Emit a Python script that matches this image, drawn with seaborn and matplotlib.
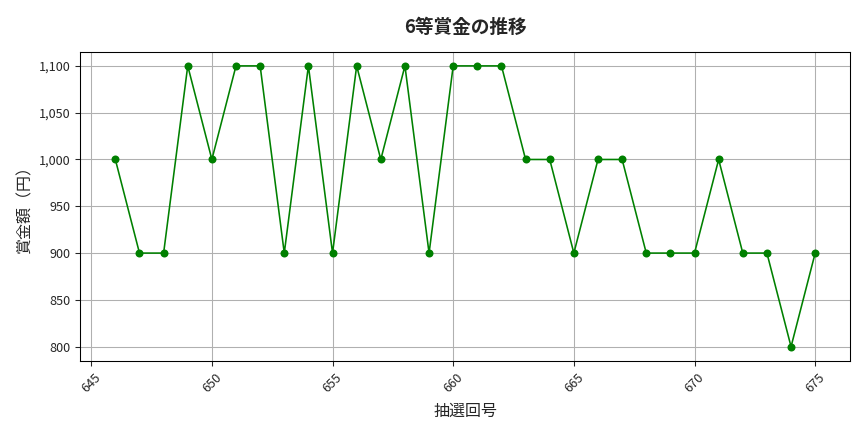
import matplotlib
matplotlib.use("Agg")
import matplotlib.pyplot as plt
import matplotlib.ticker as mticker
import seaborn as sns
import pandas as pd

# 6等賞金 per draw
draws = list(range(646, 676))
prizes = [1000, 900, 900, 1100, 1000, 1100, 1100, 900, 1100, 900,
          1100, 1000, 1100, 900, 1100, 1100, 1100, 1000, 1000, 900,
          1000, 1000, 900, 900, 900, 1000, 900, 900, 800, 900]

df = pd.DataFrame({"draw": draws, "prize": prizes})

sns.set_style("white")
plt.rcParams['font.family'] = ['Noto Sans CJK JP', 'DejaVu Sans']

fig, ax = plt.subplots(figsize=(9, 4.5), dpi=96)
sns.lineplot(data=df, x="draw", y="prize", ax=ax, color="green",
             marker="o", markersize=6, markeredgewidth=0, linewidth=1.2)

ax.set_title("6等賞金の推移", fontsize=14, fontweight="bold", pad=14)
ax.set_xlabel("抽選回号", fontsize=12, labelpad=6)
ax.set_ylabel("賞金額（円）", fontsize=12)
ax.yaxis.set_major_formatter(mticker.FuncFormatter(lambda v, p: f"{int(v):,}"))
ax.grid(True, color="#b0b0b0", linewidth=0.8)
ax.tick_params(axis="both", labelsize=9.5, length=4, left=True, bottom=True)
plt.setp(ax.get_xticklabels(), rotation=45)
for s in ax.spines.values():
    s.set_color("black")
    s.set_linewidth(0.8)

fig.subplots_adjust(left=0.093, right=0.984, top=0.880, bottom=0.165)
fig.savefig("out.png", dpi=96)
